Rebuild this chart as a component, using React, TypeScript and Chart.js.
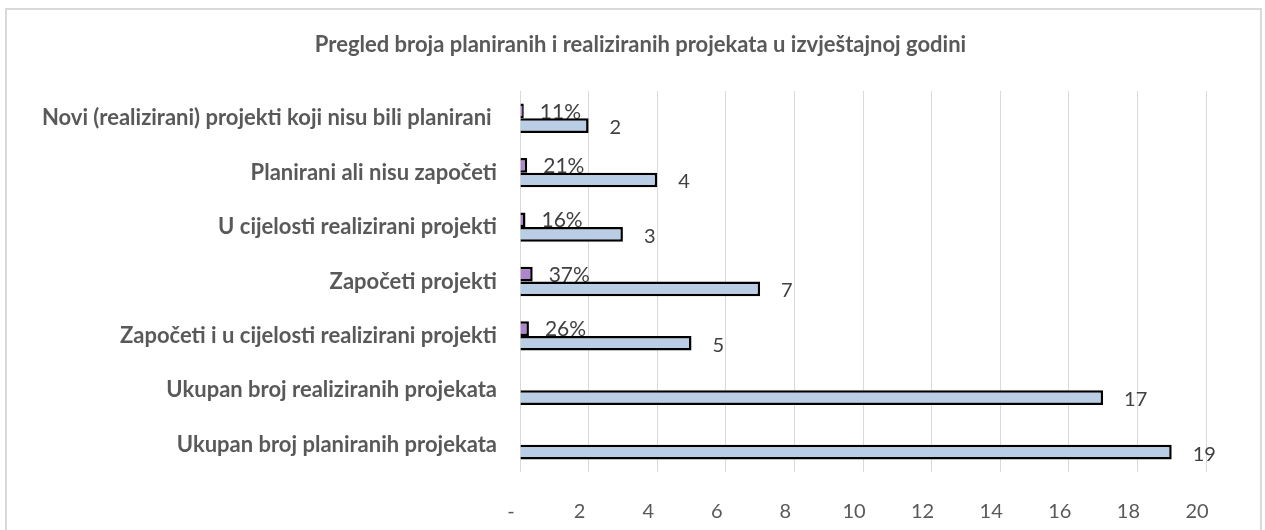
import React, { useEffect, useRef } from "react";
import { Chart, registerables } from "chart.js";

Chart.register(...registerables);

const chartTitle = "Pregled broja planiranih i realiziranih projekata u izvještajnoj godini";

const categories: string[] = [
  "Novi (realizirani) projekti koji nisu bili planirani ",
  "Planirani ali nisu započeti",
  "U cijelosti realizirani projekti",
  "Započeti projekti",
  "Započeti i u cijelosti realizirani projekti",
  "Ukupan broj realiziranih projekata",
  "Ukupan broj planiranih projekata",
];

const projectCounts: number[] = [2, 4, 3, 7, 5, 17, 19];

const projectShares: (number | null)[] = [0.11, 0.21, 0.16, 0.37, 0.26, null, null];

const xTickValues: number[] = [0, 2, 4, 6, 8, 10, 12, 14, 16, 18, 20];

const FONT = "Lato";

const titlePlugin = {
  id: "centeredTitle",
  afterDraw(chart: any) {
    const ctx = chart.ctx;
    ctx.save();
    ctx.font = `bold 22px ${FONT}`;
    ctx.fillStyle = "#595959";
    ctx.textAlign = "center";
    ctx.textBaseline = "middle";
    ctx.fillText(chartTitle, chart.width / 2 + 8, 45);
    ctx.restore();
  },
};

const labelPlugin = {
  id: "valueLabels",
  beforeDatasetsDraw(chart: any) {
    const ctx = chart.ctx;
    const meta = chart.getDatasetMeta(0);
    ctx.save();
    ctx.font = `21px ${FONT}`;
    ctx.fillStyle = "#404040";
    ctx.textAlign = "left";
    ctx.textBaseline = "middle";
    meta.data.forEach((el: any, i: number) => {
      const v = projectShares[i];
      if (v === null || v === undefined) return;
      ctx.fillText(Math.round(v * 100) + "%", el.x + 16, el.y + 1);
    });
    ctx.restore();
  },
  afterDatasetsDraw(chart: any) {
    const ctx = chart.ctx;
    const meta = chart.getDatasetMeta(1);
    ctx.save();
    ctx.font = `20px ${FONT}`;
    ctx.fillStyle = "#404040";
    ctx.textAlign = "left";
    ctx.textBaseline = "middle";
    meta.data.forEach((el: any, i: number) => {
      ctx.fillText(String(projectCounts[i]), el.x + 21, el.y + 2);
    });
    ctx.restore();
  },
};

export default function App() {
  const canvasRef = useRef<HTMLCanvasElement | null>(null);

  useEffect(() => {
    const canvas = canvasRef.current;
    if (!canvas) return;
    const chart = new Chart(canvas, {
      type: "bar",
      data: {
        labels: categories,
        datasets: [
          {
            label: "Udio",
            data: projectShares,
            backgroundColor: "#AE86CB",
            borderColor: "#000000",
            borderWidth: 2.5,
            categoryPercentage: 0.54,
            barPercentage: 1,
          },
          {
            label: "Broj projekata",
            data: projectCounts,
            backgroundColor: "#B9CDE5",
            borderColor: "#000000",
            borderWidth: 2.5,
            categoryPercentage: 0.54,
            barPercentage: 1,
          },
        ],
      },
      options: {
        indexAxis: "y",
        responsive: false,
        animation: false,
        layout: { padding: { left: 0, right: 59, top: 91, bottom: 0 } },
        plugins: {
          legend: { display: false },
          tooltip: { enabled: false },
          title: { display: false },
        },
        scales: {
          x: {
            min: 0,
            max: 20,
            afterBuildTicks: (scale: any) => {
              scale.ticks = xTickValues.map((v) => ({ value: v }));
            },
            afterFit: (scale: any) => {
              scale.height = 58;
            },
            grid: { color: "#D9D9D9", lineWidth: 1, drawTicks: false },
            border: { display: false },
            ticks: {
              color: "#595959",
              font: { family: FONT, size: 20 },
              padding: 28,
              labelOffset: -9,
              maxRotation: 0,
              callback: (v: any) => (Number(v) === 0 ? "-" : String(v)),
            },
          },
          y: {
            afterFit: (scale: any) => {
              scale.width = 520;
            },
            grid: { display: false, drawTicks: false },
            border: { display: false },
            ticks: {
              color: "#595959",
              font: { family: FONT, size: 22, weight: "bold" },
              padding: 23,
              autoSkip: false,
            },
          },
        },
      },
      plugins: [labelPlugin, titlePlugin],
    });
    return () => chart.destroy();
  }, []);

  return (
    <div
      style={{
        position: "absolute",
        left: 0,
        top: 0,
        width: 1265,
        height: 530,
        overflow: "hidden",
        background: "#ffffff",
      }}
    >
      <canvas
        ref={canvasRef}
        width={1265}
        height={530}
        style={{ position: "absolute", left: 0, top: 0, width: 1265, height: 530 }}
      />
      <div
        style={{
          position: "absolute",
          left: 5,
          top: 8,
          width: 1253,
          height: 540,
          border: "2px solid #D9D9D9",
          boxSizing: "content-box",
          pointerEvents: "none",
        }}
      />
    </div>
  );
}
